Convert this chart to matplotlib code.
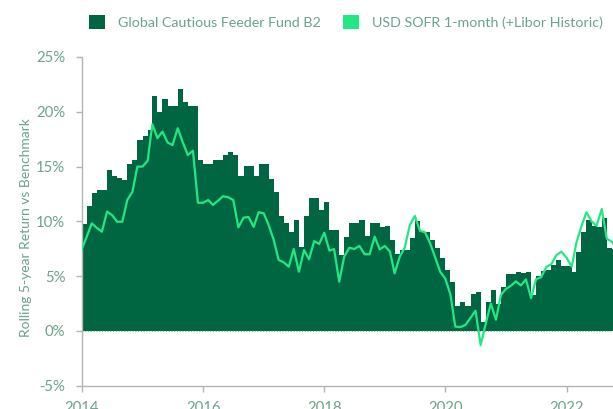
import pandas as pd
import matplotlib
matplotlib.use('Agg')
import matplotlib.pyplot as plt
from matplotlib.patches import Patch
from matplotlib.ticker import FuncFormatter, MultipleLocator
import matplotlib.dates as mdates

plt.rcParams['font.family'] = ['Lato', 'DejaVu Sans']

# monthly values from Jan 2014, in %
fund_b2 = [
    9.76, 11.4, 12.6, 12.86, 12.86, 14.7, 14.1, 14.0, 13.8, 15.2,
    15.6, 17.4, 17.8, 18.3, 21.4, 20.0, 21.2, 20.5, 20.5, 22.1,
    20.9, 20.5, 20.5, 15.6, 15.24, 15.24, 15.6, 15.6, 16.1, 16.3,
    16.1, 14.1, 15.05, 15.05, 14.14, 15.24, 15.24, 13.9, 12.65, 10.49,
    9.88, 9.06, 10.13, 7.7, 10.5, 12.1, 12.1, 11.04, 11.74, 9.2,
    9.2, 6.93, 8.6, 9.88, 9.88, 10.1, 8.7, 9.88, 9.88, 9.5,
    9.58, 8.3, 7.0, 7.39, 7.39, 8.46, 10.07, 9.0, 9.0, 8.3,
    7.54, 6.63, 5.57, 4.5, 2.28, 2.68, 2.28, 3.4, 3.53, 0.85,
    2.62, 3.74, 2.43, 4.04, 5.2, 5.2, 5.35, 5.25, 5.35, 3.3,
    5.0, 5.5, 5.57, 6.0, 6.48, 5.93, 5.93, 5.41, 7.18, 9.0,
    10.13, 9.6, 9.5, 10.28, 7.6, 7.45, 7.45,
]

usd_sofr = [
    7.5, 8.7, 9.82, 9.4, 9.06, 10.89, 10.58, 9.97, 9.97, 11.95,
    12.7, 15.0, 15.0, 15.54, 18.86, 17.6, 18.2, 17.2, 16.96, 18.5,
    17.2, 16.06, 16.45, 11.7, 11.7, 11.95, 11.5, 11.9, 12.3, 12.2,
    11.95, 9.46, 10.34, 10.4, 9.5, 10.83, 10.74, 9.6, 8.36, 6.48,
    6.27, 5.87, 7.48, 5.41, 7.39, 6.54, 8.2, 7.94, 8.97, 7.33,
    7.48, 4.5, 6.78, 7.6, 7.48, 7.76, 7.0, 7.0, 8.6, 7.45,
    7.76, 7.24, 5.26, 6.78, 7.6, 9.67, 10.5, 9.15, 9.0, 8.0,
    6.7, 5.4, 4.77, 3.3, 0.4, 0.36, 0.55, 1.2, 1.85, -1.28,
    0.7, 2.5, 1.03, 3.28, 3.85, 4.15, 4.53, 4.17, 4.7, 3.0,
    4.72, 4.92, 5.85, 6.1, 6.93, 7.24, 6.68, 5.87, 8.05, 9.58,
    10.83, 10.0, 9.6, 11.13, 8.42, 8.15, 7.4,
]

labels = ['Global Cautious Feeder Fund B2', 'USD SOFR 1-month (+Libor Historic)']

DARK = '#006641'
BRIGHT = '#22e882'
TXT = '#6aa38b'
AXC = '#b4b4b4'

dates = pd.date_range('2014-01-01', periods=len(fund_b2), freq='MS')

fig = plt.figure(figsize=(6.13, 4.09), dpi=100)
ax = fig.add_axes([82 / 613, 1 - 385.8 / 409, 531 / 613, (385.8 - 57) / 409])

ax.fill_between(dates, 0, fund_b2, step='post', color=DARK, lw=0, zorder=2)
ax.axhline(0, color='#8fb8a4', lw=0.8, ls=(0, (1, 1.5)), zorder=3)
ax.plot(dates, usd_sofr, color=BRIGHT, lw=1.6, zorder=4)

ax.set_xlim(pd.Timestamp('2014-01-01'), pd.Timestamp('2022-10-08'))
ax.set_ylim(-5, 25)
ax.yaxis.set_major_locator(MultipleLocator(5))
ax.yaxis.set_major_formatter(FuncFormatter(lambda v, p: f'{v:.0f}%'))
ax.xaxis.set_major_locator(mdates.YearLocator(2))
ax.xaxis.set_major_formatter(mdates.DateFormatter('%Y'))

for s in ['top', 'right']:
    ax.spines[s].set_visible(False)
for s in ['left', 'bottom']:
    ax.spines[s].set_color(AXC)
    ax.spines[s].set_linewidth(1.0)

ax.tick_params(axis='both', direction='out', length=4, width=1, color=AXC,
               labelcolor=TXT, labelsize=10.7)
ax.tick_params(axis='y', pad=8)
ax.tick_params(axis='x', pad=7)

ax.set_ylabel('Rolling 5-year Return vs Benchmark', color=TXT, fontsize=10)
ax.yaxis.set_label_coords(-0.095, 0.482)

handles = [Patch(facecolor=DARK), Patch(facecolor=BRIGHT)]
fig.legend(handles, labels, loc='center left', bbox_to_anchor=(89.4 / 613, 1 - 22 / 409),
           ncol=2, frameon=False, fontsize=10.3, handlelength=1.1, handleheight=1.1,
           handletextpad=0.9, columnspacing=1.55, borderpad=0, borderaxespad=0,
           labelcolor=TXT)

fig.savefig('out.png', dpi=100)
